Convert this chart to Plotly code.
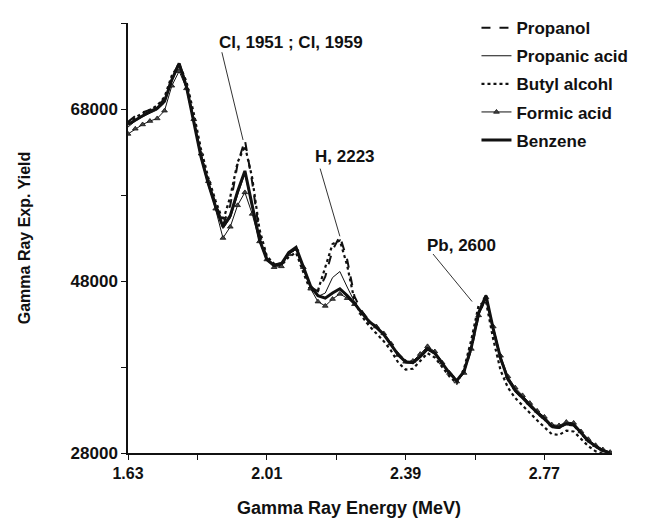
import plotly.graph_objects as go

energy = [1.63, 1.65, 1.67, 1.69, 1.71, 1.73, 1.75, 1.77, 1.79, 1.81, 1.83, 1.85, 1.87, 1.89,
          1.91, 1.93, 1.95, 1.97, 1.99, 2.01, 2.03, 2.05, 2.07, 2.09, 2.11, 2.13, 2.15, 2.17,
          2.19, 2.21, 2.23, 2.25, 2.27, 2.29, 2.31, 2.33, 2.35, 2.37, 2.39, 2.41, 2.43, 2.45,
          2.47, 2.49, 2.51, 2.53, 2.55, 2.57, 2.59, 2.61, 2.63, 2.65, 2.67, 2.69, 2.71, 2.73,
          2.75, 2.77, 2.79, 2.81, 2.83, 2.85, 2.87, 2.89, 2.91, 2.93, 2.95]

propanol = [66500, 67200, 67600, 67900, 68300, 69200, 71600, 73400, 70800, 66800, 62600, 59500, 56900, 54500,
            56800, 61600, 64400, 59500, 53500, 50700, 49900, 50100, 51200, 51700, 49500, 47300, 46800, 48500,
            51600, 53200, 50500, 46200, 44500, 43400, 42700, 41900, 40700, 39500, 38700, 38600, 39300, 40200,
            39700, 38500, 37400, 36500, 37400, 40100, 44000, 46100, 42300, 38900, 36500, 35200, 34300, 33400,
            32600, 31900, 31000, 30900, 31300, 31200, 30200, 29300, 28700, 28200, 27900]

propanic_acid = [65900, 66600, 67100, 67500, 67900, 68700, 71200, 73100, 70300, 66400, 62200, 59100, 56400, 54100,
                 55300, 58000, 60500, 56500, 52600, 50400, 49700, 49900, 51200, 51800, 49600, 47300, 46200, 46600,
                 48400, 49100, 47300, 45600, 44300, 43300, 42500, 41700, 40500, 39300, 38500, 38400, 39100, 40000,
                 39500, 38300, 37200, 36300, 37400, 40200, 44100, 46100, 42300, 38900, 36500, 35200, 34300, 33400,
                 32600, 31900, 31000, 30900, 31300, 31200, 30200, 29300, 28700, 28200, 27900]

butyl_alcohol = [66300, 67000, 67500, 67900, 68400, 69400, 71900, 73200, 71200, 67500, 63300, 60000, 57300, 55000,
                 57800, 61800, 63700, 60000, 54000, 50900, 50000, 49800, 50800, 51300, 49000, 46800, 46900, 49500,
                 52300, 52700, 49800, 45700, 43900, 42800, 41900, 41000, 39900, 38500, 37700, 37800, 38700, 39600,
                 39100, 38000, 36900, 36100, 37800, 41200, 45200, 45600, 41200, 37600, 35600, 34400, 33500, 32600,
                 31800, 31000, 30200, 30100, 30600, 30500, 29600, 28800, 28200, 27900, 27800]

formic_acid = [65100, 65700, 66200, 66600, 66900, 67800, 70700, 72400, 70400, 66800, 62800, 59600, 56400, 53000,
               54300, 56800, 58300, 55800, 52600, 50500, 49600, 49700, 51100, 51700, 49600, 47100, 45600, 45100,
               45900, 46500, 46000, 45300, 44300, 43200, 42700, 41900, 40700, 39400, 38600, 38700, 39500, 40400,
               39800, 38500, 37300, 36300, 37300, 40100, 44000, 46100, 42700, 39300, 36900, 35600, 34700, 33800,
               32900, 32200, 31300, 31200, 31600, 31500, 30500, 29600, 28900, 28400, 28100]

benzene = [66200, 66700, 67300, 67700, 68100, 68900, 71400, 73300, 70600, 66600, 62400, 59300, 56600, 54300,
           55600, 58400, 60800, 56800, 52800, 50500, 49800, 50000, 51300, 51900, 49700, 47400, 46300, 46000,
           46600, 47100, 46300, 45400, 44300, 43300, 42600, 41800, 40600, 39400, 38600, 38500, 39200, 40100,
           39600, 38400, 37300, 36400, 37500, 40300, 44300, 46300, 42400, 39000, 36600, 35300, 34400, 33500,
           32700, 32000, 31100, 31000, 31400, 31300, 30300, 29400, 28800, 28300, 28000]

series_names = ["Propanol", "Propanic acid", "Butyl alcohl", "Formic acid", "Benzene"]

x_range = [1.63, 2.955]
y_range = [28000, 78000]

labels = ["Cl, 1951 ; Cl, 1959", "H, 2223", "Pb, 2600"]
label_pos = [(2.076, 75740), (2.224, 62420), (2.542, 52150)]
leader_lines = [((1.887, 74600), (1.945, 64400)),
                ((2.156, 61070), (2.210, 53200)),
                ((2.465, 51140), (2.572, 45610))]

FONT = "Liberation Sans, Arial, sans-serif"
INK = "#111111"

fig = go.Figure()
fig.add_trace(go.Scatter(x=energy, y=propanol, name=series_names[0], mode="lines",
                         line=dict(color=INK, width=2, dash="dash"), legendgroup="a"))
fig.add_trace(go.Scatter(x=energy, y=propanic_acid, name=series_names[1], mode="lines",
                         line=dict(color=INK, width=1), legendgroup="b"))
fig.add_trace(go.Scatter(x=energy, y=butyl_alcohol, name=series_names[2], mode="lines",
                         line=dict(color=INK, width=2.2, dash="dot"), legendgroup="c"))
fig.add_trace(go.Scatter(x=energy, y=formic_acid, name=series_names[3], mode="lines+markers",
                         line=dict(color=INK, width=1),
                         marker=dict(symbol="triangle-up", size=5, color="#444444",
                                     line=dict(color=INK, width=0.8)), legendgroup="d"))
fig.add_trace(go.Scatter(x=energy, y=benzene, name=series_names[4], mode="lines",
                         line=dict(color=INK, width=3), legendgroup="e"))

for (x0, y0), (x1, y1) in leader_lines:
    fig.add_shape(type="line", xref="x", yref="y", x0=x0, y0=y0, x1=x1, y1=y1,
                  line=dict(color="#333333", width=1))

for txt, (xa, ya) in zip(labels, label_pos):
    fig.add_annotation(x=xa, y=ya, xref="x", yref="y", text=txt, showarrow=False,
                       font=dict(family=FONT, size=17, color=INK, weight="bold"))

# x-axis title (centred slightly left of the plot centre, as in the original)
fig.add_annotation(x=0.457, y=-0.129, xref="paper", yref="paper", xanchor="center", yanchor="middle",
                   text="Gamma Ray Energy (MeV)", showarrow=False,
                   font=dict(family=FONT, size=18, color=INK, weight="bold"))

fig.update_layout(
    width=652, height=524,
    margin=dict(l=128, r=40, t=10, b=71),
    paper_bgcolor="white", plot_bgcolor="white",
    font=dict(family=FONT, size=16, color=INK, weight="bold"),
    showlegend=True,
    legend=dict(x=0.72, y=1.03, xanchor="left", yanchor="top",
                bgcolor="rgba(0,0,0,0)", tracegroupgap=3,
                font=dict(family=FONT, size=17, color=INK, weight="bold")),
)
fig.update_xaxes(range=x_range, showline=True, linecolor=INK, linewidth=1.5,
                 showgrid=False, zeroline=False, ticks="outside", ticklen=5,
                 tickcolor=INK, tick0=1.63, dtick=0.38, tickformat=".2f",
                 minor=dict(dtick=0.19, tick0=1.63, ticks="outside", ticklen=5, tickcolor=INK, showgrid=False),
                 tickfont=dict(family=FONT, size=16, color=INK, weight="bold"))
fig.update_yaxes(range=y_range, showline=True, linecolor=INK, linewidth=1.5,
                 showgrid=False, zeroline=False, ticks="outside", ticklen=5,
                 tickcolor=INK, tick0=28000, dtick=20000, tickformat="d",
                 minor=dict(dtick=10000, tick0=28000, ticks="outside", ticklen=5, tickcolor=INK, showgrid=False),
                 tickfont=dict(family=FONT, size=17, color=INK, weight="bold"),
                 title=dict(text="Gamma Ray Exp. Yield", standoff=36,
                            font=dict(family=FONT, size=16, color=INK, weight="bold")))

fig.write_html("out.html")
